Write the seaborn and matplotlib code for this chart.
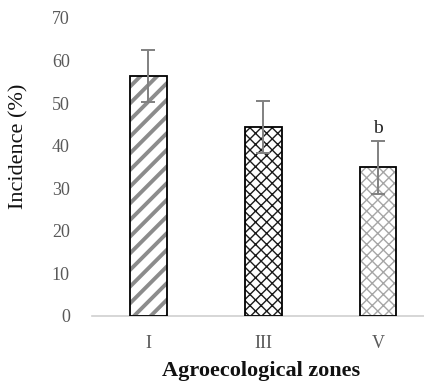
import numpy as np
import pandas as pd
import matplotlib
matplotlib.use('Agg')
import matplotlib.pyplot as plt
import seaborn as sns

# Data
zones = ['I', 'III', 'V']
incidence = [56.3, 44.4, 34.9]
errors = [6.1, 6.2, 6.2]
letters = ['', '', 'b']

hatches = ['//', 'xxx', 'xxx']
hatch_colors = ['#8c8c8c', '#1a1a1a', '#a6a6a6']
hatch_widths = [2.8, 1.0, 1.0]

df = pd.DataFrame({'zone': zones, 'incidence': incidence})

sns.set_style('white')
plt.rcParams['font.family'] = ['Liberation Serif', 'DejaVu Serif']

fig = plt.figure(figsize=(4.24, 3.85), dpi=100)
ax = fig.add_axes([92 / 424, 1 - 316 / 385, 1 - 92 / 424, 298 / 385])

sns.barplot(data=df, x='zone', y='incidence', color='white', width=0.32,
            errorbar=None, ax=ax)
for patch, h, c, lw in zip(ax.patches, hatches, hatch_colors, hatch_widths):
    patch.set_hatch(h)
    patch.set_edgecolor(c)
    patch.set_linewidth(0)
    if hasattr(patch, 'set_hatch_linewidth'):
        patch.set_hatch_linewidth(lw)

# black outline on top of the hatched bars
ax.bar(range(len(zones)), incidence, width=0.32, fill=False,
       edgecolor='black', linewidth=1.3, zorder=3)

ax.errorbar(range(len(zones)), incidence, yerr=errors, fmt='none',
            ecolor='#808080', elinewidth=1.4, capsize=5, capthick=1.4, zorder=4)

for i, t in enumerate(letters):
    if t:
        ax.text(i, incidence[i] + errors[i] + 1.0, t, ha='center', va='bottom',
                fontsize=14, color='#222222')

ax.set_ylim(0, 70)
ax.set_xlim(-0.49, 2.4)
ax.set_yticks(range(0, 71, 10))

for side in ['left', 'top', 'right']:
    ax.spines[side].set_visible(False)
ax.spines['bottom'].set_color('#d0d0d0')
ax.spines['bottom'].set_linewidth(1.2)

ax.tick_params(axis='both', length=0, labelsize=13, labelcolor='#595959')
ax.tick_params(axis='y', pad=16)
ax.tick_params(axis='x', pad=14)

ax.set_ylabel('Incidence (%)', fontsize=16, color='#111111')
ax.yaxis.set_label_coords(-0.19, 0.57)
ax.set_xlabel('Agroecological zones', fontsize=16, fontweight='bold', color='#111111')
ax.xaxis.set_label_coords(0.51, -0.15)

plt.savefig('out.png', dpi=100)
